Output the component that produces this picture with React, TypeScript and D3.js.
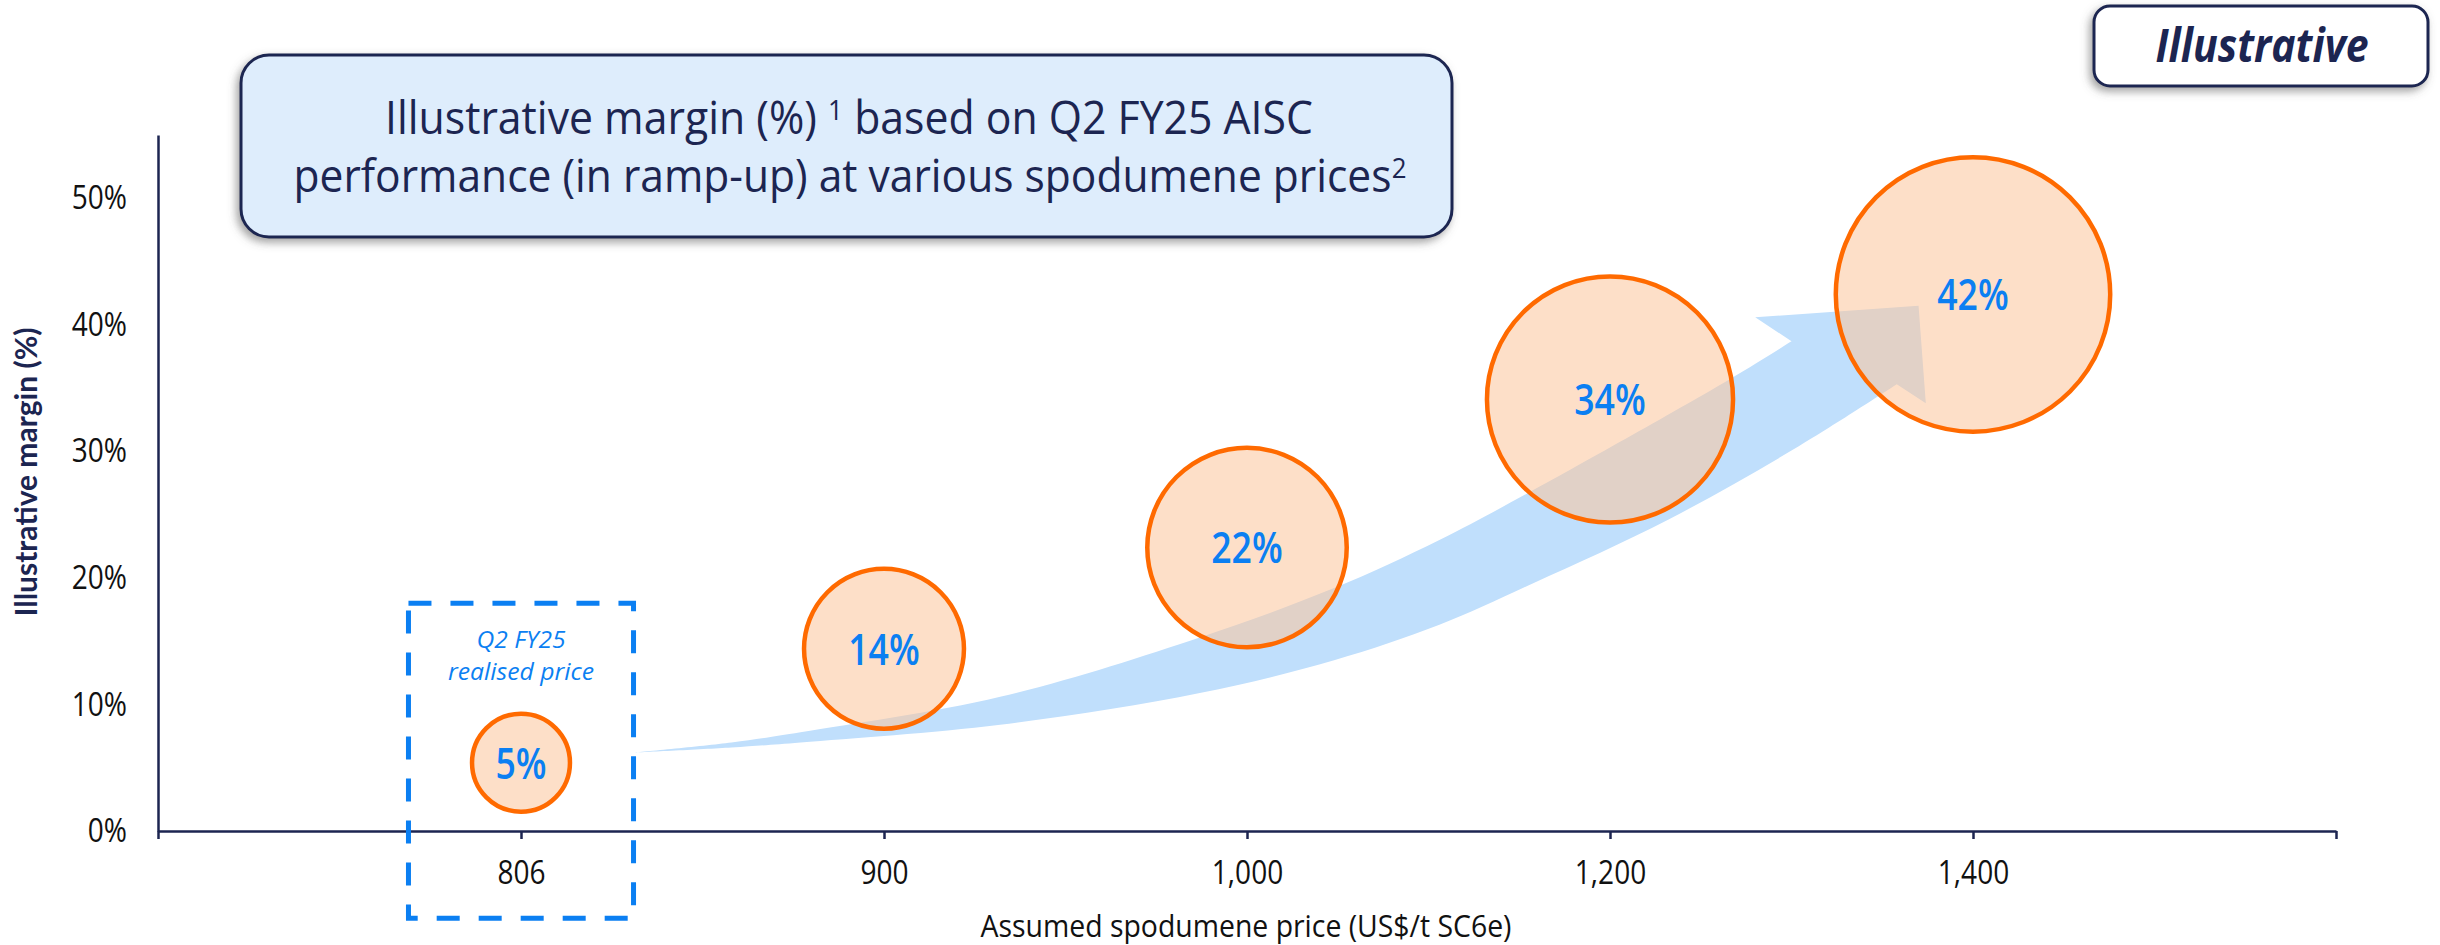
import * as d3 from "d3";
import {useEffect, useRef} from "react";

// categories (assumed spodumene price, US$/t SC6e)
const prices = ["806", "900", "1,000", "1,200", "1,400"];
// illustrative margin (%) at each price, read off the bubble centres
const margins = [5.4, 14.4, 22.4, 34.1, 42.4];
const yTicks = [0, 10, 20, 30, 40, 50];

// single digits are footnote superscripts
const titleLine1 = ["Illustrative margin (%) ", "1", " based on Q2 FY25 AISC"];
const titleLine2 = ["performance (in ramp-up) at various spodumene prices", "2"];

// decorative trend arrow, in data units: [category index, margin %]
const arrowUpper = [[1.31, 6.2], [1.58, 7.0], [1.77, 7.8], [2.32, 10.6], [2.87, 15.3], [3.24, 19.2], [3.53, 23.0], [3.78, 26.8], [4.33, 35.7], [4.50, 38.7]];
const arrowHead = [[4.40, 40.6], [4.85, 41.5], [4.87, 33.8], [4.79, 35.3]];
const arrowLower = [[4.79, 35.3], [4.52, 30.4], [4.16, 24.6], [3.79, 19.6], [3.53, 16.3], [3.24, 13.5], [2.87, 10.9], [2.32, 8.4], [1.77, 7.0], [1.58, 6.6], [1.31, 6.2]];

const NAVY = "#1c2551";
const BLUE = "#0b7ff2";
const SANS = "'Open Sans', 'Noto Sans', sans-serif";

// no condensed face is installed, so squeeze the glyphs instead
function squeeze(sel, k) {
    sel.each(function () {
        const n = this.getComputedTextLength();
        this.setAttribute("textLength", n * k);
        this.setAttribute("lengthAdjust", "spacingAndGlyphs");
    });
}

function fit(sel, w) {
    sel.attr("textLength", w).attr("lengthAdjust", "spacingAndGlyphs");
}

// lays one title line out piece by piece so superscripts sit beside the words
function titleLine(svg, parts, cx, base, width) {
    const gap = 12;
    const nodes = parts.map(s => {
        const sup = /^\d$/.test(s.trim());
        return svg.append("text")
            .attr("x", 0)
            .attr("y", sup ? -14 : 0)
            .attr("fill", NAVY)
            .style("font-family", SANS).style("font-size", sup ? "28px" : "46px")
            .text(s.trim());
    });
    const nat = nodes.map(n => n.node().getComputedTextLength());
    const gaps = parts.map((s, i) => i < parts.length - 1 && (s.endsWith(" ") || parts[i + 1].startsWith(" ")) ? gap : 0);
    const k = width / (d3.sum(nat) + d3.sum(gaps));
    let cur = cx - width / 2;
    nodes.forEach((n, i) => {
        n.attr("transform", `translate(${cur},${base}) scale(${k},1)`);
        cur += (nat[i] + gaps[i]) * k;
    });
}

function App() {
    const svgRef = useRef(null);

    useEffect(() => {
        const svg = d3.select(svgRef.current);
        svg.selectAll("*").remove();

        const x = d3.scaleLinear().domain([0, prices.length + 1]).range([158, 2336]);
        const y = d3.scaleLinear().domain([0, 55]).range([831, 135]);
        const r = d3.scaleSqrt().domain([0, 50]).range([0, 149]);

        const defs = svg.append("defs");
        const f = defs.append("filter").attr("id", "shadow")
            .attr("x", "-10%").attr("y", "-20%").attr("width", "120%").attr("height", "150%");
        f.append("feDropShadow").attr("dx", -3).attr("dy", 4).attr("stdDeviation", 4)
            .attr("flood-color", "#555").attr("flood-opacity", 0.55);

        // title box
        svg.append("rect")
            .attr("x", 241).attr("y", 55).attr("width", 1211).attr("height", 182).attr("rx", 28)
            .attr("fill", "#deedfc").attr("stroke", NAVY).attr("stroke-width", 3)
            .attr("filter", "url(#shadow)");
        titleLine(svg, titleLine1, 849, 134, 928);
        titleLine(svg, titleLine2, 850, 192, 1113);

        // "Illustrative" tag
        svg.append("rect")
            .attr("x", 2094).attr("y", 6).attr("width", 334).attr("height", 80).attr("rx", 16)
            .attr("fill", "#fff").attr("stroke", NAVY).attr("stroke-width", 3)
            .attr("filter", "url(#shadow)");
        const tag = svg.append("text")
            .attr("x", 2262).attr("y", 62).attr("text-anchor", "middle").attr("fill", NAVY)
            .style("font-family", SANS).style("font-size", "46px")
            .style("font-weight", "bold").style("font-style", "italic")
            .text("Illustrative");
        fit(tag, 213);

        // axes
        const yAxis = svg.append("g")
            .attr("transform", `translate(${x(0)},0)`)
            .call(d3.axisLeft(y).tickValues(yTicks).tickSize(0).tickSizeOuter(0).tickPadding(31)
                .tickFormat(d => d + "%"));
        const xAxis = svg.append("g")
            .attr("transform", `translate(0,${y(0)})`)
            .call(d3.axisBottom(x).tickValues(d3.range(0, prices.length + 2)).tickSize(8).tickSizeOuter(0)
                .tickPadding(22).tickFormat(i => prices[i - 1] ?? ""));
        [yAxis, xAxis].forEach(g => {
            g.select(".domain").attr("stroke", NAVY).attr("stroke-width", 2.5);
            g.selectAll(".tick line").attr("stroke", NAVY).attr("stroke-width", 2.5);
            g.selectAll("text").attr("fill", "#111")
                .style("font-family", SANS).style("font-size", "33px");
            squeeze(g.selectAll("text"), 0.85);
        });

        const yTitle = svg.append("text")
            .attr("transform", "translate(37,472) rotate(-90)")
            .attr("text-anchor", "middle").attr("fill", NAVY)
            .style("font-family", "Lato, 'Open Sans', sans-serif").style("font-size", "31px").style("font-weight", "bold")
            .text("Illustrative margin (%)");
        fit(yTitle, 289);
        const xTitle = svg.append("text")
            .attr("x", 1246).attr("y", 937).attr("text-anchor", "middle").attr("fill", "#111")
            .style("font-family", SANS).style("font-size", "31px")
            .text("Assumed spodumene price (US$/t SC6e)");
        fit(xTitle, 531);

        // trend arrow
        const line = d3.line().x(d => x(d[0])).y(d => y(d[1]));
        const upper = line.curve(d3.curveCatmullRom)(arrowUpper);
        const head = line.curve(d3.curveLinear)(arrowHead).replace(/^M/, "L");
        const lower = line.curve(d3.curveCatmullRom)(arrowLower).replace(/^M/, "L");
        svg.append("path")
            .attr("d", upper + head + lower + "Z")
            .attr("fill", "#c0dffc");

        // bubbles
        const bubbles = svg.append("g");
        bubbles.selectAll("circle")
            .data(margins)
            .enter()
            .append("circle")
            .attr("cx", (d, i) => x(i + 1))
            .attr("cy", d => y(d))
            .attr("r", d => r(d))
            .attr("fill", "rgba(251,197,155,0.55)")
            .attr("stroke", "#ff6a00")
            .attr("stroke-width", 4.5);
        const labels = bubbles.selectAll("text")
            .data(margins)
            .enter()
            .append("text")
            .attr("x", (d, i) => x(i + 1))
            .attr("y", d => y(d))
            .attr("dy", "0.36em")
            .attr("text-anchor", "middle")
            .attr("fill", BLUE)
            .style("font-family", SANS).style("font-size", "44px").style("font-weight", 600)
            .text(d => Math.round(d) + "%");
        squeeze(labels, 0.81);

        // Q2 FY25 realised price highlight
        svg.append("rect")
            .attr("x", x(0.69)).attr("y", y(18))
            .attr("width", x(1.31) - x(0.69)).attr("height", y(-6.9) - y(18))
            .attr("fill", "none").attr("stroke", BLUE).attr("stroke-width", 5)
            .attr("stroke-dasharray", "23 19");
        [["Q2 FY25", 648, 89], ["realised price", 680, 146]].forEach(([s, ty, w]) => {
            const t = svg.append("text")
                .attr("x", x(1)).attr("y", ty)
                .attr("text-anchor", "middle").attr("fill", BLUE)
                .style("font-family", SANS).style("font-size", "24px").style("font-style", "italic")
                .text(s);
            fit(t, w);
        });
    }, []);

    return (
        <div style={{position: "absolute", left: 0, top: 0, background: "#fff"}}>
            <svg ref={svgRef} width={2440} height={945} viewBox="0 0 2440 945"/>
        </div>
    );
}

export default App;
